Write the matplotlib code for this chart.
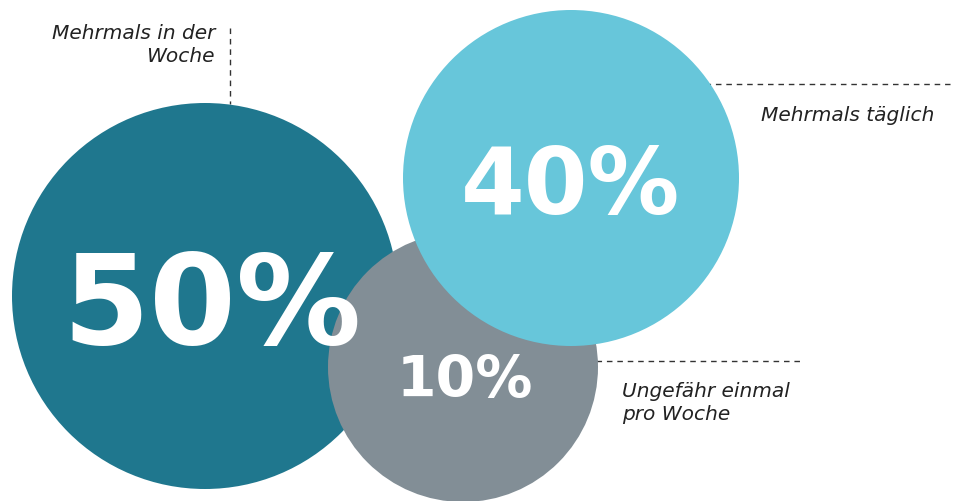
import matplotlib
import matplotlib.pyplot as plt
from matplotlib.patches import Circle

matplotlib.use('agg')

# data
labels = ["Mehrmals in der\nWoche", "Ungefähr einmal\npro Woche", "Mehrmals täglich"]
values = [50, 10, 40]
colors = ["#1f778e", "#828e96", "#67c6da"]

# layout (pixel coords, y down)
centers = [(205, 296), (463, 367), (571, 178)]
radii = [193, 135, 168]
value_sizes = [90, 41, 66]
value_offsets = [(7, 48), (2, 30), (0, 36)]  # baseline position relative to centre

fig = plt.figure(figsize=(9.56, 5.01), dpi=100)
ax = fig.add_axes([0, 0, 1, 1])
ax.set_xlim(0, 956)
ax.set_ylim(501, 0)
ax.set_aspect('equal')
ax.axis('off')

# drawing order: gray behind, then dark, then light
for i in [1, 0, 2]:
    c = Circle(centers[i], radii[i], color=colors[i], lw=0, zorder=i + 1)
    ax.add_patch(c)
    ax.text(centers[i][0] + value_offsets[i][0], centers[i][1] + value_offsets[i][1],
            f"{values[i]}%", color="white", fontsize=value_sizes[i],
            fontweight="bold", family="DejaVu Sans",
            ha="center", va="baseline", zorder=10)

dash = dict(color="#333333", lw=1, ls=(0, (4, 3.5)), zorder=0)
txt = dict(color="#222222", fontsize=14.5, style="italic", family="DejaVu Sans",
           linespacing=1.3)

# Mehrmals in der Woche
ax.plot([230, 230], [28, 104], **dash)
ax.text(215, 45, labels[0], ha="right", va="center", **txt)

# Mehrmals täglich
ax.plot([705, 950], [84, 84], **dash)
ax.text(934, 115, labels[2], ha="right", va="center", **txt)

# Ungefähr einmal pro Woche
ax.plot([596, 800], [361, 361], **dash)
ax.text(622, 403, labels[1], ha="left", va="center", **txt)

fig.savefig("out.png", dpi=100)
